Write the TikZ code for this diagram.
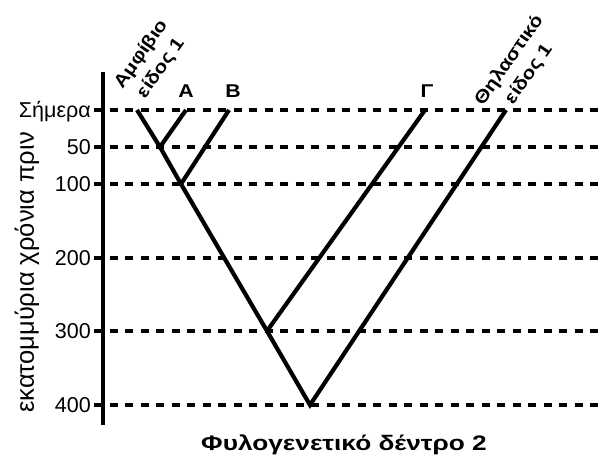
\documentclass[tikz,border=0pt]{standalone}
\usepackage{fontspec}
\setmainfont{Liberation Sans}
\newfontfamily\wbA{Liberation Sans}[FakeStretch=1.15]
\newfontfamily\wbB{Liberation Sans}[FakeStretch=1.25]
\begin{document}
\begin{tikzpicture}[x=1pt,y=-1pt,
  tree/.style={line width=4.2pt},
  axisline/.style={line width=4pt},
  grid/.style={line width=3.5pt, dash pattern=on 8pt off 7.5pt},
  num/.style={anchor=base east, inner sep=0pt, font=\fontsize{21.5}{24}\selectfont},
  tip/.style={anchor=base, inner sep=0pt, font=\fontsize{18.5}{20}\selectfont\wbA\bfseries},
  rot/.style={anchor=south, inner sep=0pt, rotate=55, align=center, font=\fontsize{18}{24}\selectfont\wbA\bfseries},
  ttl/.style={anchor=base, inner sep=0pt, font=\fontsize{21}{24}\selectfont\wbB\bfseries},
  ylab/.style={anchor=base west, inner sep=0pt, rotate=90, font=\fontsize{25.5}{28}\selectfont}]
\useasboundingbox (0,0) rectangle (603,458);
% axis
\coordinate (axtop) at (103,72);
\coordinate (axbot) at (103,425);
\draw[axisline] (axtop) -- (axbot);
% time lines
\foreach \yy/\name in {110/t0,147/t50,184/t100,258/t200,331/t300,405/t400}{
  \coordinate (\name L) at (94,\yy);
  \coordinate (\name R) at (603,\yy);
  \draw[grid] (\name L) -- (\name R);
}
\node[num] (l0) at (91,117.5) {Σήμερα};
\node[num] (l50) at (91,154.5) {50};
\node[num] (l100) at (91,191.5) {100};
\node[num] (l200) at (91,265.5) {200};
\node[num] (l300) at (91,338.5) {300};
\node[num] (l400) at (91,412.5) {400};
\node[ylab] (yl) at (34,413) {εκατομμύρια χρόνια πριν};
% tree
\coordinate (amph) at (137,110);
\coordinate (ta) at (186,110);
\coordinate (tb) at (229,110);
\coordinate (tg) at (425,110);
\coordinate (tm) at (506,110);
\coordinate (n50) at (160,147);
\coordinate (n100) at (181,184);
\coordinate (n300) at (267,331);
\coordinate (root) at (310,405);
\draw[tree] (amph) -- (n50) -- (n100) -- (n300) -- (root) -- (tm);
\draw[tree] (n50) -- (ta);
\draw[tree] (n100) -- (tb);
\draw[tree] (n300) -- (tg);
% tip labels
\node[tip] (la) at (186,97) {Α};
\node[tip] (lb) at (233,97) {Β};
\node[tip] (lg) at (427,97) {Γ};
\node[rot] (am) at (168,73) {Αμφίβιο\\είδος 1};
\node[rot] (th) at (536,79) {Θηλαστικό\\είδος 1};
% title
\node[ttl] (title) at (344,450) {Φυλογενετικό δέντρο 2};
\end{tikzpicture}
\end{document}
